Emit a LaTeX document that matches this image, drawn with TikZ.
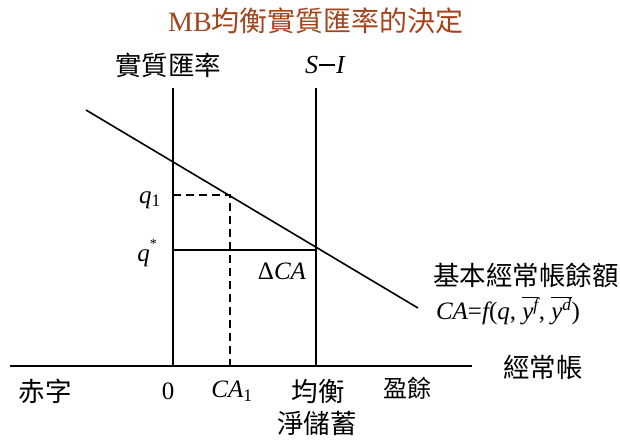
\documentclass[tikz,border=0pt]{standalone}
\usepackage{fontspec}
\setmainfont{Liberation Serif}
\newfontfamily\cjk{Noto Sans CJK TC}
\definecolor{titlebrown}{RGB}{165,68,28}
\begin{document}
\begin{tikzpicture}[x=1pt,y=-1pt,
  axisline/.style={line width=1.6pt},
  guide/.style={line width=1.6pt, dash pattern=on 8pt off 5pt},
  cjklbl/.style={inner sep=0pt, font=\fontsize{26.5}{28}\selectfont\cjk},
  mlbl/.style={inner sep=0pt, font=\fontsize{25}{27}\selectfont\itshape}]
\path[use as bounding box, fill=white] (0,0) rectangle (620,439);
% coordinates
\coordinate (hl) at (10,366);
\coordinate (hr) at (472,366);
\coordinate (vt) at (173,88);
\coordinate (vb) at (173,366);
\coordinate (st) at (316,88);
\coordinate (sb) at (316,366);
\coordinate (ca0) at (86,110);
\coordinate (ca1) at (418,308);
\coordinate (q1l) at (173,195);
\coordinate (q1p) at (230,195);
\coordinate (q1b) at (230,366);
\coordinate (qsl) at (173,250);
\coordinate (qsr) at (316,250);
% lines
\draw[axisline] (hl) -- (hr);
\draw[axisline] (vt) -- (vb);
\draw[axisline] (st) -- (sb);
\draw[axisline] (ca0) -- (ca1);
\draw[guide] (q1l) -- (q1p) -- (q1b);
\draw[axisline] (qsl) -- (qsr);
% labels
\node[inner sep=0pt, text=titlebrown, font=\fontsize{28}{30}\selectfont] (title) at (316,21) {MB{\cjk 均衡實質匯率的決定}};
\node[cjklbl] (yl) at (168,65) {實質匯率};
\node[mlbl, font=\fontsize{26}{28}\selectfont\itshape] (sil) at (325,65) {S\kern1pt{\upshape\rule[0.3em]{0.62em}{0.06em}}\kern1pt I};
\node[mlbl] (q1) at (150,200) {q\textsubscript{\upshape 1}};
\node[mlbl] (qs) at (147,253) {q\raisebox{0.55em}{\upshape\fontsize{14}{14}\selectfont *}};
\node[mlbl] (dca) at (282,271) {{\upshape Δ}CA};
\node[cjklbl] (bca) at (526,275) {基本經常帳餘額};
\node[mlbl] (fca) at (508,311) {CA{\upshape =}f{\upshape (}q{\upshape ,} $\overline{\mbox{\itshape y\textsuperscript{f}}}${\upshape ,} $\overline{\mbox{\itshape y\textsuperscript{d}}}${\upshape )}};
\node[cjklbl] (cal) at (543,367) {經常帳};
\node[cjklbl] (def) at (45,391) {赤字};
\node[inner sep=0pt, font=\fontsize{25}{27}\selectfont] (zero) at (168,391) {0};
\node[mlbl] (ca1l) at (232,391) {CA\textsubscript{\upshape 1}};
\node[cjklbl] (eq) at (318,391) {均衡};
\node[cjklbl, font=\fontsize{24}{26}\selectfont\cjk] (sur) at (407,388) {盈餘};
\node[cjklbl] (ns) at (317,423) {淨儲蓄};
\end{tikzpicture}
\end{document}
